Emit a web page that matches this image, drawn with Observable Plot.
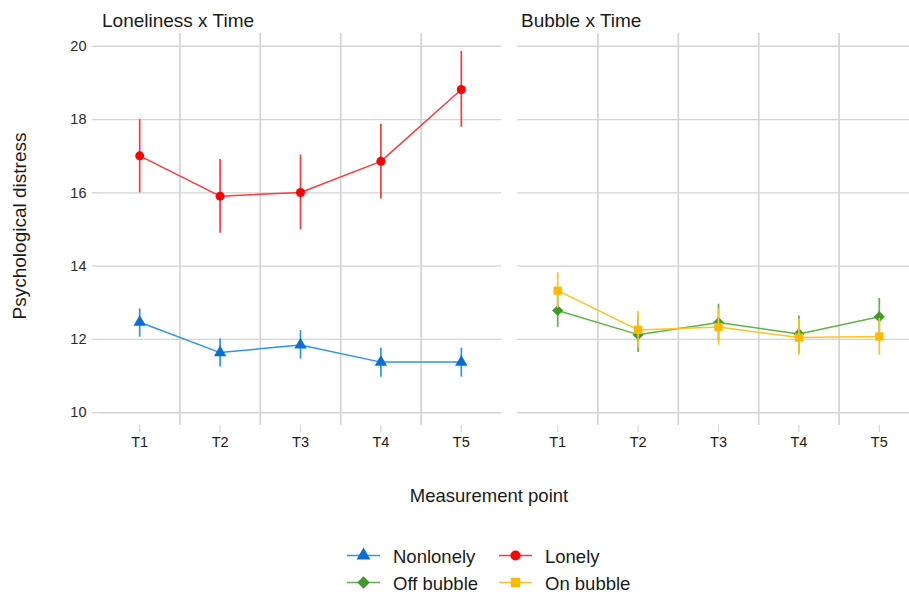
<!DOCTYPE html>
<html>
<head>
<meta charset="utf-8">
<script src="https://cdn.jsdelivr.net/npm/d3@7"></script>
<script src="https://cdn.jsdelivr.net/npm/@observablehq/plot@0.6"></script>
<style>
  body { margin: 0; background: #fff; }
  #wrap { position: relative; width: 909px; height: 596px; overflow: hidden; font-family: "Liberation Sans", Arial, sans-serif; }
  #wrap svg { font-family: "Liberation Sans", Arial, sans-serif; max-width: none !important; }
  .panel { position: absolute; top: 0; }
  #overlay { position: absolute; left: 0; top: 0; pointer-events: none; }
</style>
</head>
<body>
<div id="wrap">
  <div id="left" class="panel" style="left:0px; width:501px"></div>
  <div id="right" class="panel" style="left:509px; width:410px"></div>
  <svg id="overlay" width="909" height="596"></svg>
</div>
<script>
// ---- data ----
const times = ["T1", "T2", "T3", "T4", "T5"];
const yTicks = [10, 12, 14, 16, 18, 20];

const nonlonelyMean = [12.47, 11.64, 11.85, 11.38, 11.38];
const nonlonelyLow  = [12.06, 11.25, 11.46, 10.97, 10.97];
const nonlonelyHigh = [12.83, 12.01, 12.24, 11.76, 11.76];

const lonelyMean = [17.01, 15.91, 16.01, 16.86, 18.82];
const lonelyLow  = [16.00, 14.90, 14.99, 15.83, 17.79];
const lonelyHigh = [18.00, 16.91, 17.03, 17.87, 19.86];

const offBubbleMean = [12.79, 12.13, 12.46, 12.15, 12.62];
const offBubbleLow  = [12.33, 11.64, 11.97, 11.63, 12.12];
const offBubbleHigh = [13.26, 12.61, 12.96, 12.64, 13.12];

const onBubbleMean = [13.33, 12.26, 12.34, 12.05, 12.08];
const onBubbleLow  = [12.85, 11.77, 11.84, 11.57, 11.57];
const onBubbleHigh = [13.82, 12.76, 12.83, 12.55, 12.57];

const panelTitles = ["Loneliness x Time", "Bubble x Time"];
const yLabel = "Psychological distress";
const xLabel = "Measurement point";

// ---- styles ----
const gridColor = "#d4d4d4";
const textColor = "#1a1a1a";
const series = {
  Nonlonely:    {mean: nonlonelyMean, low: nonlonelyLow, high: nonlonelyHigh, line: "#2a97e2", mark: "#0a6fd4", symbol: "triangle", r: 4.6},
  Lonely:       {mean: lonelyMean, low: lonelyLow, high: lonelyHigh, line: "#ff3a3a", mark: "#ff0000", symbol: "circle", r: 4.5},
  "Off bubble": {mean: offBubbleMean, low: offBubbleLow, high: offBubbleHigh, line: "#5db446", mark: "#3f9a2a", symbol: "diamond2", r: 5},
  "On bubble":  {mean: onBubbleMean, low: onBubbleLow, high: onBubbleHigh, line: "#ffc21f", mark: "#ffb800", symbol: "square", r: 4.7}
};

function rows(name) {
  const s = series[name];
  return times.map((t, i) => ({t: i + 1, label: t, mean: s.mean[i], low: s.low[i], high: s.high[i]}));
}

function seriesMarks(name) {
  const s = series[name];
  const data = rows(name);
  return [
    Plot.ruleX(data, {x: "t", y1: "low", y2: "high", stroke: s.line, strokeWidth: 1.7}),
    Plot.line(data, {x: "t", y: "mean", stroke: s.line, strokeWidth: 1.5}),
    Plot.dot(data, {x: "t", y: "mean", fill: s.mark, stroke: "none", symbol: s.symbol, r: s.r})
  ];
}

const separators = times.slice(1).map((_, i) => i + 1.5);
const xTicks = times.map((_, i) => i + 1);

function panel(names, withYAxis, marginLeft, width) {
  return Plot.plot({
    width, height: 460,
    marginLeft, marginRight: 0, marginTop: 33, marginBottom: 35,
    x: {domain: [0.5, 5.5], axis: null},
    y: {domain: [9.65, 20.35], axis: null},
    marks: [
      Plot.gridY(yTicks, {stroke: gridColor, strokeOpacity: 1, strokeWidth: 1.4}),
      Plot.gridX(separators, {stroke: gridColor, strokeOpacity: 1, strokeWidth: 1.7}),
      withYAxis
        ? Plot.axisY(yTicks, {tickSize: 7, tickPadding: 6, stroke: gridColor, strokeWidth: 1.4, fill: "#2a2a2a", fontSize: 14.5, label: null})
        : null,
      Plot.axisX(xTicks, {tickSize: 7, tickPadding: 4, stroke: gridColor, strokeWidth: 1.2, fill: "#1a1a1a", fontSize: 14.5,
                          tickFormat: d => times[d - 1], label: null}),
      ...names.flatMap(seriesMarks)
    ]
  });
}

document.getElementById("left").append(panel(["Nonlonely", "Lonely"], true, 99, 501));
document.getElementById("right").append(panel(["Off bubble", "On bubble"], false, 8, 410));

// ---- overlay text + legend ----
const ov = d3.select("#overlay");
const txt = (x, y, s, size, extra = {}) => {
  const t = ov.append("text").attr("x", x).attr("y", y).text(s)
    .attr("font-size", size).attr("fill", textColor);
  Object.entries(extra).forEach(([k, v]) => t.attr(k, v));
  return t;
};
txt(102, 26.5, panelTitles[0], 19);
txt(521, 26.5, panelTitles[1], 19);
txt(0, 0, yLabel, 19, {"text-anchor": "middle", transform: "translate(25.5,226) rotate(-90)"});
txt(489, 501.5, xLabel, 18.5, {"text-anchor": "middle"});

const legendItems = [
  {name: "Nonlonely", x: 347, y: 555.5},
  {name: "Lonely", x: 499, y: 555.5},
  {name: "Off bubble", x: 347, y: 582.5},
  {name: "On bubble", x: 499, y: 582.5}
];
const symMap = {triangle: d3.symbolTriangle, circle: d3.symbolCircle, diamond2: d3.symbolDiamond2, square: d3.symbolSquare};
legendItems.forEach(it => {
  const s = series[it.name];
  ov.append("line").attr("x1", it.x).attr("x2", it.x + 33).attr("y1", it.y).attr("y2", it.y)
    .attr("stroke", s.line).attr("stroke-width", 1.6);
  ov.append("path").attr("d", d3.symbol(symMap[s.symbol], Math.PI * (s.r + 0.6) * (s.r + 0.6))())
    .attr("transform", `translate(${it.x + 16.5},${it.y})`).attr("fill", s.mark);
  txt(it.x + 46, it.y + 7.5, it.name, 18.5);
});
</script>
</body>
</html>
